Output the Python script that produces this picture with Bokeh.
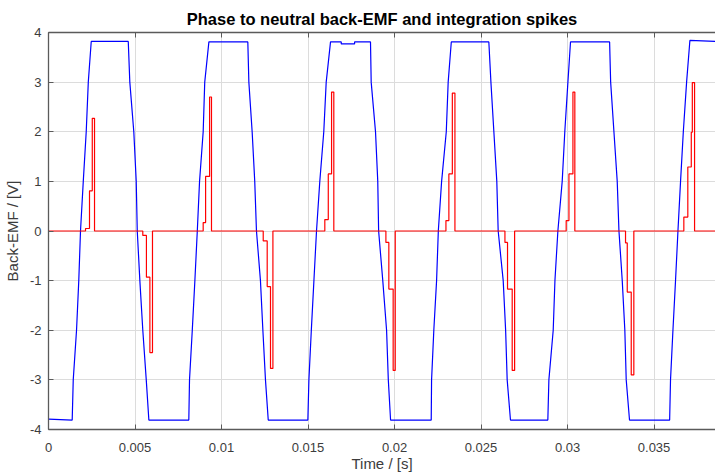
from bokeh.plotting import figure
from bokeh.models import Range1d, LinearAxis, FixedTicker
from bokeh.embed import file_html
from bokeh.resources import INLINE

# ---- data ----
# blue: phase-to-neutral back-EMF (piecewise vertices)
blue_t = [0.0, 0.00137, 0.00143, 0.00162, 0.00175, 0.00185, 0.00201, 0.00218, 0.0023, 0.00247,
          0.00461, 0.0047, 0.00493, 0.00507, 0.00513, 0.00528, 0.00545, 0.00565, 0.0058,
          0.00811, 0.00815, 0.00831, 0.00846, 0.0086, 0.00873, 0.00894, 0.00903, 0.00927,
          0.01152, 0.01158, 0.01177, 0.01192, 0.01202, 0.01225, 0.01239, 0.01254, 0.0127,
          0.01499, 0.01505, 0.01519, 0.01534, 0.01549, 0.01568, 0.01591, 0.01605, 0.0163,
          0.01692, 0.01692, 0.01769, 0.01769,
          0.01861, 0.01865, 0.0189, 0.01903, 0.01908, 0.01932, 0.01954, 0.01964, 0.01977,
          0.02212, 0.02214, 0.02227, 0.02243, 0.02253, 0.02272, 0.02299, 0.0231, 0.02328,
          0.02545, 0.02557, 0.02574, 0.02591, 0.02599, 0.02628, 0.02642, 0.02651, 0.0267,
          0.02886, 0.02892, 0.02917, 0.02927, 0.02944, 0.02969, 0.02984, 0.03002, 0.03017,
          0.03243, 0.03249, 0.03268, 0.03287, 0.03297, 0.03316, 0.03331, 0.03339, 0.03358,
          0.0359, 0.03595, 0.03609, 0.03624, 0.03638, 0.03653, 0.03669, 0.03688, 0.03707,
          0.0387]
blue_v = [-3.79, -3.81, -3.0, -2.0, -1.0, 0.0, 1.0, 2.0, 3.0, 3.82,
          3.82, 3.0, 2.0, 1.0, 0.0, -1.0, -2.0, -3.0, -3.81,
          -3.81, -3.0, -2.0, -1.0, 0.0, 1.0, 2.0, 3.0, 3.81,
          3.81, 3.0, 2.0, 1.0, 0.0, -1.0, -2.0, -3.0, -3.81,
          -3.81, -3.0, -2.0, -1.0, 0.0, 1.0, 2.0, 3.0, 3.81,
          3.81, 3.77, 3.77, 3.81,
          3.81, 3.0, 2.0, 1.0, 0.0, -1.0, -2.0, -3.0, -3.81,
          -3.81, -3.0, -2.0, -1.0, 0.0, 1.0, 2.0, 3.0, 3.81,
          3.81, 3.0, 2.0, 1.0, 0.0, -1.0, -2.0, -3.0, -3.81,
          -3.81, -3.0, -2.0, -1.0, 0.0, 1.0, 2.0, 3.0, 3.81,
          3.81, 3.0, 2.0, 1.0, 0.0, -1.0, -2.0, -3.0, -3.81,
          -3.81, -3.0, -2.0, -1.0, 0.0, 1.0, 2.0, 3.0, 3.84,
          3.82]

# red: integration spikes (value holds from each time until the next)
red_t = [0.0,
         0.00214, 0.00237, 0.00253, 0.00266, 0.00545, 0.00566, 0.00586, 0.00601,
         0.00894, 0.00908, 0.00931, 0.00942, 0.01241, 0.01264, 0.01283, 0.01297,
         0.01597, 0.01617, 0.01636, 0.01649, 0.0195, 0.01967, 0.01992, 0.02004,
         0.02297, 0.02314, 0.02334, 0.02349, 0.02638, 0.02653, 0.0268, 0.02694,
         0.02992, 0.03008, 0.03031, 0.03042, 0.03335, 0.03345, 0.03368, 0.03383,
         0.03672, 0.03695, 0.03715, 0.03721, 0.03734, 0.0387]
red_v = [0.0,
         0.05, 0.81, 2.27, 0.0, -0.09, -0.93, -2.45, 0.0,
         0.17, 1.1, 2.7, 0.0, -0.2, -1.12, -2.77, 0.0,
         0.23, 1.15, 2.8, 0.0, -0.23, -1.17, -2.81, 0.0,
         0.21, 1.15, 2.78, 0.0, -0.23, -1.17, -2.81, 0.0,
         0.21, 1.15, 2.8, 0.0, -0.24, -1.23, -2.9, 0.0,
         0.28, 1.29, 1.99, 2.99, 0.0, 0.0]

x_ticks = [0, 0.005, 0.01, 0.015, 0.02, 0.025, 0.03, 0.035]
x_tick_labels = ["0", "0.005", "0.01", "0.015", "0.02", "0.025", "0.03", "0.035"]
y_ticks = [-4, -3, -2, -1, 0, 1, 2, 3, 4]
y_tick_labels = ["-4", "-3", "-2", "-1", "0", "1", "2", "3", "4"]

TITLE = "Phase to neutral back-EMF and integration spikes"
XLABEL = "Time / [s]"
YLABEL = "Back-EMF / [V]"

FONT = "Liberation Sans"
AXIS_COL = "#5a5a5a"
TEXT_COL = "#3c3c3c"

p = figure(width=715, height=475, output_backend="svg", toolbar_location=None,
           x_range=Range1d(0, 0.03855), y_range=Range1d(-4, 4),
           title=TITLE, min_border_left=48, min_border_right=0,
           min_border_top=32, min_border_bottom=46)

p.title.align = "center"
p.title.text_font = FONT
p.title.text_font_style = "bold"
p.title.text_font_size = "16.5px"
p.title.text_color = "#000000"
p.title.standoff = 9
p.outline_line_color = None
p.background_fill_color = "white"
p.border_fill_color = "white"

p.line(blue_t, blue_v, line_color="#0000ff", line_width=1.2)
p.step(red_t, red_v, mode="after", line_color="#ff0000", line_width=1.2)

for ax in p.xaxis:
    ax.ticker = FixedTicker(ticks=x_ticks)
    ax.major_label_overrides = {t: s for t, s in zip(x_ticks, x_tick_labels)}
    ax.axis_label = XLABEL
for ax in p.yaxis:
    ax.ticker = FixedTicker(ticks=y_ticks)
    ax.major_label_overrides = {t: s for t, s in zip(y_ticks, y_tick_labels)}
    ax.axis_label = YLABEL

for ax in list(p.xaxis) + list(p.yaxis):
    ax.axis_line_color = AXIS_COL
    ax.axis_line_width = 1.3
    ax.major_tick_line_color = AXIS_COL
    ax.major_tick_in = 5
    ax.major_tick_out = 0
    ax.minor_tick_line_color = None
    ax.major_label_text_font = FONT
    ax.major_label_text_font_size = "13px"
    ax.major_label_text_color = TEXT_COL
    ax.axis_label_text_font = FONT
    ax.axis_label_text_font_size = "15px"
    ax.axis_label_text_font_style = "normal"
    ax.axis_label_text_color = TEXT_COL

p.xaxis.major_label_standoff = 13
p.xaxis.axis_label_standoff = 0
p.yaxis.major_label_standoff = 7
p.yaxis.axis_label_standoff = 6

top = LinearAxis(ticker=FixedTicker(ticks=x_ticks), axis_line_color=AXIS_COL, axis_line_width=1.3,
                 major_tick_line_color=AXIS_COL, major_tick_in=5, major_tick_out=0,
                 minor_tick_line_color=None, major_label_text_font_size="0px",
                 major_label_text_color=None, major_label_standoff=0)
p.add_layout(top, "above")

p.xgrid.ticker = FixedTicker(ticks=x_ticks)
p.ygrid.ticker = FixedTicker(ticks=y_ticks)
p.grid.grid_line_color = "#dcdcdc"
p.grid.grid_line_width = 1

open("out.html", "w").write(file_html(p, INLINE))
